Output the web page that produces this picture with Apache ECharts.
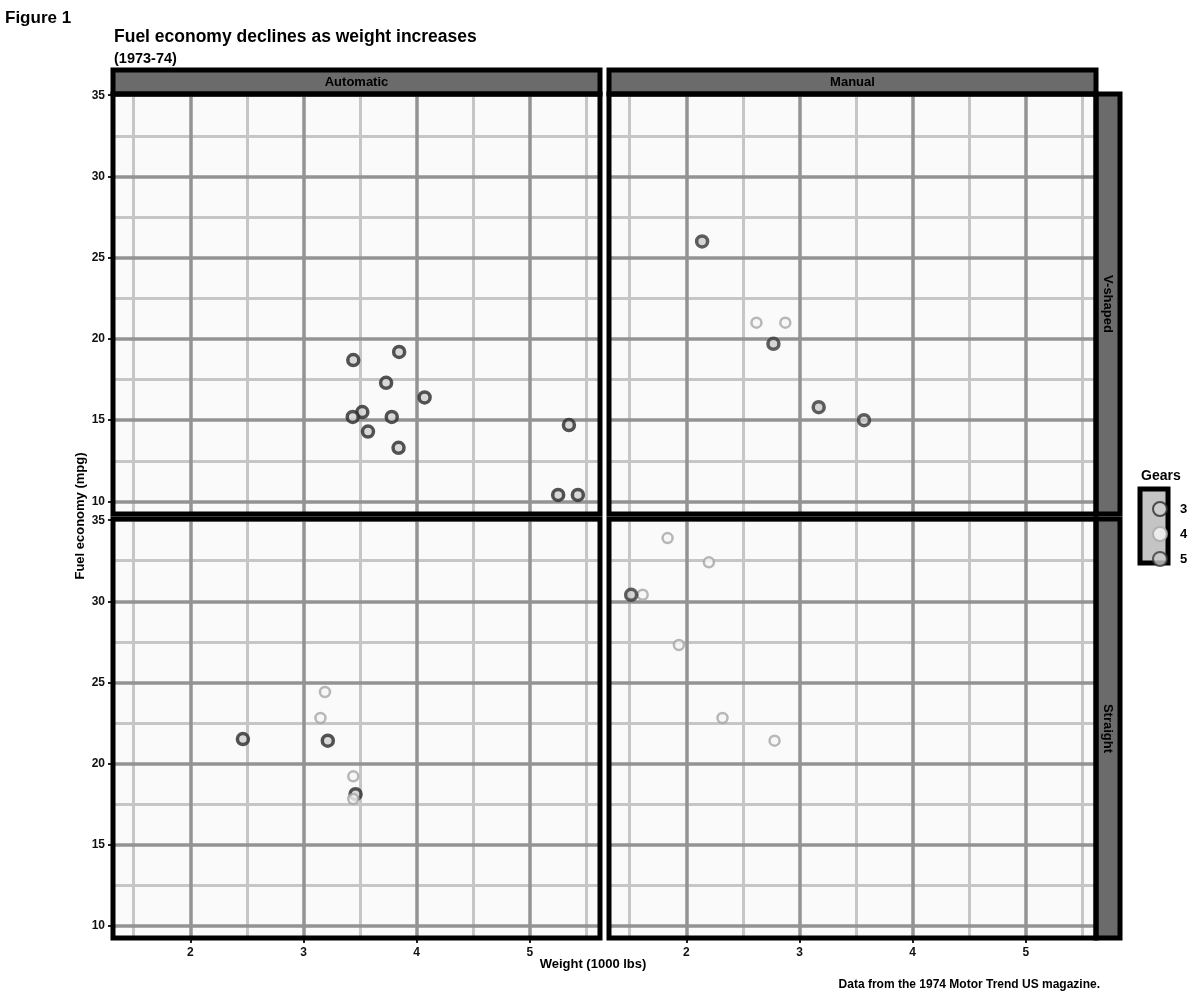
<!DOCTYPE html>
<html>
<head>
<meta charset="utf-8">
<script src="https://cdn.jsdelivr.net/npm/echarts@6/dist/echarts.min.js"></script>
<style>
  html, body { margin: 0; padding: 0; background: #fff; }
  #chart { width: 1200px; height: 1000px; }
</style>
</head>
<body>
<div id="chart"></div>
<script>
// mtcars: weight (1000 lbs), mpg, engine shape (0 V-shaped, 1 straight), transmission (0 auto, 1 manual), gears
var carWeight = [2.620, 2.875, 2.320, 3.215, 3.440, 3.460, 3.570, 3.190, 3.150, 3.440, 3.440, 4.070, 3.730, 3.780, 5.250, 5.424,
  5.345, 2.200, 1.615, 1.835, 2.465, 3.520, 3.435, 3.840, 3.845, 1.935, 2.140, 1.513, 3.170, 2.770, 3.570, 2.780];
var carMpg = [21.0, 21.0, 22.8, 21.4, 18.7, 18.1, 14.3, 24.4, 22.8, 19.2, 17.8, 16.4, 17.3, 15.2, 10.4, 10.4,
  14.7, 32.4, 30.4, 33.9, 21.5, 15.5, 15.2, 13.3, 19.2, 27.3, 26.0, 30.4, 15.8, 19.7, 15.0, 21.4];
var carVs = [0, 0, 1, 1, 0, 1, 0, 1, 1, 1, 1, 0, 0, 0, 0, 0, 0, 1, 1, 1, 1, 0, 0, 0, 0, 1, 0, 1, 0, 0, 0, 1];
var carAm = [1, 1, 1, 0, 0, 0, 0, 0, 0, 0, 0, 0, 0, 0, 0, 0, 0, 1, 1, 1, 0, 0, 0, 0, 0, 1, 1, 1, 1, 1, 1, 1];
var carGear = [4, 4, 4, 3, 3, 3, 3, 4, 4, 4, 4, 3, 3, 3, 3, 3, 3, 4, 4, 4, 3, 3, 3, 3, 3, 4, 5, 5, 5, 5, 5, 4];

var amLabels = ['Automatic', 'Manual'];
var vsLabels = ['V-shaped', 'Straight'];
var gearLevels = [3, 4, 5];
var xTicks = [2, 3, 4, 5];
var xMinorTicks = [1.5, 2.5, 3.5, 4.5, 5.5];
var yTicks = [10, 15, 20, 25, 30, 35];
var yMinorTicks = [12.5, 17.5, 22.5, 27.5, 32.5];

// ggplot-style 5% expansion of data range
var xMin = 1.513 - 0.05 * (5.424 - 1.513), xMax = 5.424 + 0.05 * (5.424 - 1.513);
var yMin = 10.4 - 0.05 * (33.9 - 10.4), yMax = 33.9 + 0.05 * (33.9 - 10.4);

var FONT = 'Liberation Sans';
var panelLeft = [113, 609];
var panelTop = [94, 519];
var panelW = 487;
var panelH = [420, 419];

var gearStyle = {
  3: { color: '#cfcfcf', borderColor: '#2a2a2a', borderWidth: 3.5 },
  4: { color: '#f6f6f6', borderColor: '#a6a6a6', borderWidth: 2.5 },
  5: { color: '#cacaca', borderColor: '#383838', borderWidth: 3.5 }
};

var grids = [], xAxes = [], yAxes = [], series = [], graphics = [];

for (var vs = 0; vs < 2; vs++) {
  for (var am = 0; am < 2; am++) {
    var gi = vs * 2 + am;
    grids.push({
      left: panelLeft[am], top: panelTop[vs], width: panelW, height: panelH[vs],
      show: true, backgroundColor: '#fafafa', borderWidth: 0
    });
    xAxes.push({
      type: 'value', gridIndex: gi, min: xMin, max: xMax,
      splitLine: { show: false }, axisLine: { show: false },
      axisTick: { show: vs === 1, customValues: xTicks, length: 5, lineStyle: { color: '#222', width: 2 } },
      axisLabel: { show: vs === 1, customValues: xTicks, margin: 9, fontFamily: FONT, fontSize: 12, fontWeight: 'bold', color: '#111' }
    });
    yAxes.push({
      type: 'value', gridIndex: gi, min: yMin, max: yMax,
      splitLine: { show: false }, axisLine: { show: false },
      axisTick: { show: am === 0, customValues: yTicks, length: 5, lineStyle: { color: '#222', width: 2 } },
      axisLabel: { show: am === 0, customValues: yTicks, margin: 8, fontFamily: FONT, fontSize: 12, fontWeight: 'bold', color: '#111' }
    });

    // grid lines drawn as mark lines in data coordinates
    var lines = [];
    xMinorTicks.forEach(function (v) { lines.push({ xAxis: v, lineStyle: { color: '#c6c6c6', width: 3, type: 'solid' } }); });
    yMinorTicks.forEach(function (v) { lines.push({ yAxis: v, lineStyle: { color: '#c6c6c6', width: 3, type: 'solid' } }); });
    xTicks.forEach(function (v) { lines.push({ xAxis: v, lineStyle: { color: '#939393', width: 3.5, type: 'solid' } }); });
    yTicks.forEach(function (v) { lines.push({ yAxis: v, lineStyle: { color: '#939393', width: 3.5, type: 'solid' } }); });
    series.push({
      type: 'line', xAxisIndex: gi, yAxisIndex: gi, data: [], silent: true, z: 1,
      markLine: { silent: true, symbol: ['none', 'none'], label: { show: false }, animation: false, data: lines }
    });

    gearLevels.forEach(function (g) {
      var pts = [];
      for (var i = 0; i < carWeight.length; i++) {
        if (carVs[i] === vs && carAm[i] === am && carGear[i] === g) pts.push([carWeight[i], carMpg[i]]);
      }
      series.push({
        name: String(g), type: 'scatter', xAxisIndex: gi, yAxisIndex: gi, z: 5,
        symbol: 'circle', symbolSize: g === 4 ? 10 : 11,
        itemStyle: gearStyle[g], data: pts
      });
    });

    // panel border
    graphics.push({
      type: 'rect', z: 100, silent: true,
      shape: { x: panelLeft[am], y: panelTop[vs], width: panelW, height: panelH[vs] },
      style: { fill: null, stroke: '#000', lineWidth: 5 }
    });
  }
}

// column strips (transmission)
for (var c = 0; c < 2; c++) {
  graphics.push({
    type: 'rect', z: 90, silent: true,
    shape: { x: panelLeft[c], y: 70, width: panelW, height: 24 },
    style: { fill: '#6b6b6b', stroke: '#000', lineWidth: 5 }
  });
  graphics.push({
    type: 'text', z: 110, silent: true, x: panelLeft[c] + panelW / 2, y: 82,
    style: { text: amLabels[c], fill: '#000', font: 'bold 13px ' + FONT, align: 'center', verticalAlign: 'middle' }
  });
}
// row strips (engine shape)
for (var r = 0; r < 2; r++) {
  graphics.push({
    type: 'rect', z: 90, silent: true,
    shape: { x: panelLeft[1] + panelW, y: panelTop[r], width: 24, height: panelH[r] },
    style: { fill: '#6b6b6b', stroke: '#000', lineWidth: 5 }
  });
  graphics.push({
    type: 'text', z: 110, silent: true, x: panelLeft[1] + panelW + 12, y: panelTop[r] + panelH[r] / 2,
    rotation: -Math.PI / 2,
    style: { text: vsLabels[r], fill: '#000', font: 'bold 13px ' + FONT, align: 'center', verticalAlign: 'middle' }
  });
}

// legend key box
graphics.push({
  type: 'rect', z: 2, silent: true,
  shape: { x: 1140, y: 489, width: 28, height: 74 },
  style: { fill: '#c4c4c4', stroke: '#000', lineWidth: 5 }
});
graphics.push({
  type: 'text', silent: true, x: 1141, y: 476,
  style: { text: 'Gears', fill: '#000', font: 'bold 14px ' + FONT, verticalAlign: 'middle' }
});
// tag, axis titles, caption
graphics.push({
  type: 'text', silent: true, x: 5, y: 18,
  style: { text: 'Figure 1', fill: '#000', font: 'bold 17px ' + FONT, verticalAlign: 'middle' }
});
graphics.push({
  type: 'text', silent: true, x: 80, y: 516, rotation: Math.PI / 2,
  style: { text: 'Fuel economy (mpg)', fill: '#000', font: 'bold 13px ' + FONT, align: 'center', verticalAlign: 'middle' }
});
graphics.push({
  type: 'text', silent: true, x: 593, y: 964,
  style: { text: 'Weight (1000 lbs)', fill: '#000', font: 'bold 13px ' + FONT, align: 'center', verticalAlign: 'middle' }
});
graphics.push({
  type: 'text', silent: true, x: 1100, y: 985,
  style: { text: 'Data from the 1974 Motor Trend US magazine.', fill: '#000', font: 'bold 12px ' + FONT, align: 'right', verticalAlign: 'middle' }
});

var chart = echarts.init(document.getElementById('chart'));
chart.setOption({
  animation: false,
  backgroundColor: '#fff',
  title: [
    { text: 'Fuel economy declines as weight increases', left: 109, top: 23,
      textStyle: { fontFamily: FONT, fontSize: 17.5, fontWeight: 'bold', color: '#000' } },
    { text: '(1973-74)', left: 109, top: 46,
      textStyle: { fontFamily: FONT, fontSize: 14.5, fontWeight: 'bold', color: '#000' } }
  ],
  legend: {
    data: ['3', '4', '5'], orient: 'vertical', left: 1147, top: 496,
    itemWidth: 14, itemHeight: 14, itemGap: 9, icon: 'circle',
    textStyle: { fontFamily: FONT, fontSize: 13, fontWeight: 'bold', color: '#000', padding: [0, 0, 0, 8] }
  },
  grid: grids,
  xAxis: xAxes,
  yAxis: yAxes,
  series: series,
  graphic: graphics
});
</script>
</body>
</html>
